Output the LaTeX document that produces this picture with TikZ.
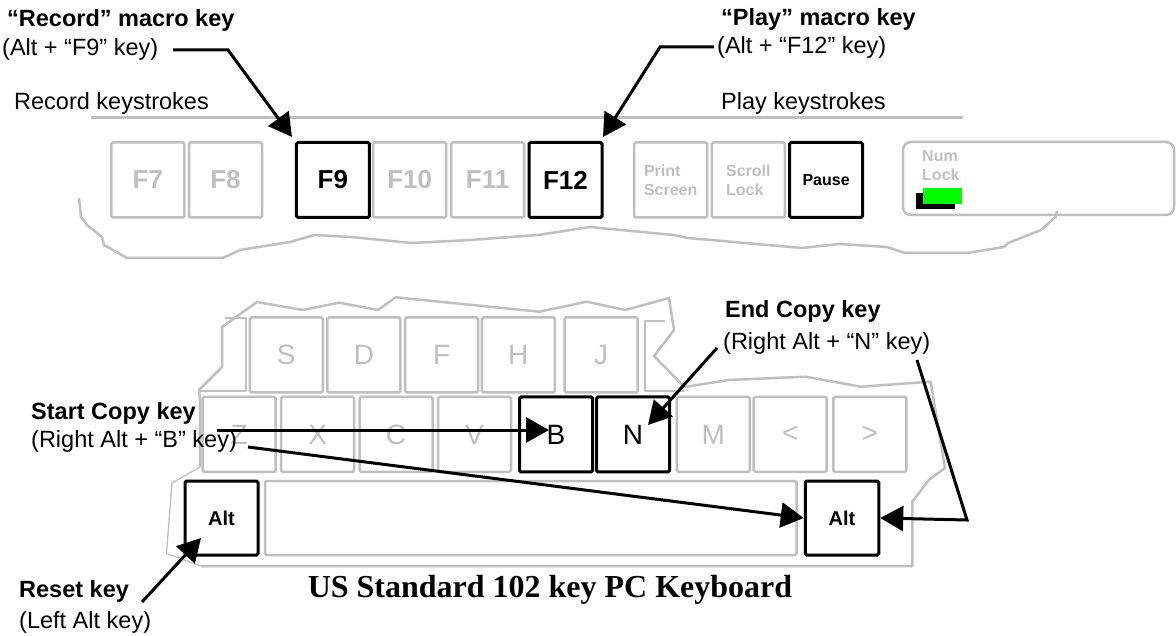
\documentclass[tikz,border=0pt]{standalone}
\usepackage{fontspec}
\setmainfont{Liberation Sans}
\newfontfamily\titlefont{Liberation Serif}
\usetikzlibrary{arrows.meta}
\definecolor{kg}{HTML}{BFBFBF}
\definecolor{led}{HTML}{00FF00}
\begin{document}
\begin{tikzpicture}[x=1pt,y=-1pt,
  lbl/.style={anchor=base west,inner sep=0pt,font=\fontsize{23.5}{28}\selectfont},
  lblb/.style={anchor=base west,inner sep=0pt,font=\fontsize{23.5}{28}\selectfont\bfseries},
  gkey/.style={draw=kg,line width=2.5pt,rounded corners=1.5pt,text=kg,inner sep=0pt,minimum width=73pt,minimum height=75pt},
  bkey/.style={gkey,draw=black,text=black,line width=3pt},
  fk/.style={font=\fontsize{26}{30}\selectfont\bfseries},
  sk/.style={font=\fontsize{16}{19}\selectfont\bfseries,align=left},
  lk/.style={font=\fontsize{28}{32}\selectfont},
  ak/.style={font=\fontsize{20}{24}\selectfont\bfseries},
  outl/.style={draw=kg,line width=2.5pt,line join=round},
  arr/.style={draw=black,line width=3pt,-{Triangle[length=23pt,width=25pt]}},
]
\useasboundingbox (0,0) rectangle (1176,636);

% ---------- top labels ----------
\node[lblb] (recA) at (7,27) {“Record” macro key};
\node[lbl]  (recB) at (2,56) {(Alt + “F9” key)};
\node[lbl]  (recC) at (14,110) {Record keystrokes};
\node[lblb] (plyA) at (721,26) {“Play” macro key};
\node[lbl]  (plyB) at (717,54) {(Alt + “F12” key)};
\node[lbl]  (plyC) at (721,110) {Play keystrokes};

\draw[kg,line width=3pt] (91,118) -- (963,118);

% ---------- top outline ----------
\draw[outl] (79,198) -- (81,217) -- (87,225) -- (102,237) -- (104,245) -- (127,258)
  -- (223,258) -- (240,250) -- (290,242) -- (314.5,235) -- (351,237) -- (412,243)
  -- (470,240) -- (538,235) -- (590,227) -- (600,228) -- (673.5,235) -- (688,238)
  -- (802,248) -- (839,244) -- (887,247) -- (905,253) -- (967,253) -- (1004,247)
  -- (1008,243) -- (1041,230) -- (1055.5,217) -- (1057,211);

% ---------- top keys ----------
\node[gkey,fk] (f7)  at (147.9,180) {F7};
\node[gkey,fk] (f8)  at (225.5,180) {F8};
\node[bkey,fk] (f9)  at (332.9,180) {F9};
\node[gkey,fk] (f10) at (409.7,180) {F10};
\node[gkey,fk] (f11) at (487.6,180) {F11};
\node[bkey,fk] (f12) at (565.5,180) {F12};
\node[gkey,sk] (prt) at (670.7,180) {Print\\Screen};
\node[gkey,sk] (scr) at (748.4,180) {Scroll\\Lock};
\node[bkey,sk] (pau) at (826.1,180) {Pause};
\node[draw=kg,line width=2.5pt,rounded corners=8pt,minimum width=271pt,minimum height=73pt,inner sep=0pt] (num) at (1038.5,178.5) {};
\node[anchor=base west,inner sep=0pt,text=kg,font=\fontsize{16}{19}\selectfont\bfseries] (numA) at (922,162) {Num};
\node[anchor=base west,inner sep=0pt,text=kg,font=\fontsize{16}{19}\selectfont\bfseries] (numB) at (922,181) {Lock};
\fill[black] (916,193) rectangle (955,209);
\fill[led] (923,188) rectangle (962,204);

% ---------- top arrows ----------
\coordinate (r0) at (173,50);
\coordinate (r1) at (228,50);
\coordinate (r2) at (292,137);
\draw[arr] (r0) -- (r1) -- (r2);
\coordinate (p0) at (714,47);
\coordinate (p1) at (660,47);
\coordinate (p2) at (603,137);
\draw[arr] (p0) -- (p1) -- (p2);

% ---------- lower outline ----------
\draw[outl] (200,467) -- (200,400) -- (199,390) -- (222,367) -- (222,327) -- (257,302)
  -- (302.6,310) -- (339.4,302.7) -- (378,310) -- (395.5,297.3) -- (539.3,311.7)
  -- (586.7,301.7) -- (625.3,310) -- (669,298) -- (674,330) -- (654,356) -- (684.5,387)
  -- (728.6,380) -- (805.7,376.7) -- (860.8,386.7) -- (930.6,381.7) -- (945,468)
  -- (928.8,480) -- (912.3,501.7) -- (912.3,566) -- (201,566);
\draw[kg,line width=1.3pt,line join=round] (201,566) -- (166.5,553.3) -- (172,483) -- (200,467);
% partial keys
\draw[outl] (225,318) -- (246,318) -- (246,391) -- (199,391);
\draw[outl] (665,321) -- (645,321) -- (645,391) -- (684,391);

% ---------- lower keys ----------
\begin{scope}[every node/.append style={minimum height=73.4pt}]
\node[gkey,lk] (ks) at (286.3,355) {S};
\node[gkey,lk] (kd) at (363.9,355) {D};
\node[gkey,lk] (kf) at (441.6,355) {F};
\node[gkey,lk] (kh) at (518.3,355) {H};
\node[gkey,lk] (kj) at (601.2,355) {J};
\end{scope}
\begin{scope}[every node/.append style={minimum height=72pt,minimum width=72pt}]
\node[gkey,lk] (kz) at (239.2,434.4) {Z};
\node[gkey,lk] (kx) at (317.6,434.4) {X};
\node[gkey,lk] (kc) at (396,434.4) {C};
\node[gkey,lk] (kv) at (474.5,434.4) {V};
\node[bkey,lk] (kb) at (556,434.4) {B};
\node[bkey,lk] (kn) at (633,434.4) {N};
\node[gkey,lk] (km) at (713.4,434.4) {M};
\node[gkey,lk] (klt) at (790.2,434.4) {<};
\node[gkey,lk] (kgt) at (869.9,434.4) {>};
\end{scope}
\node[bkey,ak,minimum height=74pt] (lalt) at (221.5,518) {Alt};
\node[gkey,minimum height=74pt,minimum width=531.5pt] (space) at (530.75,518) {};
\node[bkey,ak,minimum height=74pt,minimum width=73.5pt] (ralt) at (842,518) {Alt};

% ---------- lower labels ----------
\node[lblb] (endA) at (725,318) {End Copy key};
\node[lbl]  (endB) at (723,350) {(Right Alt + “N” key)};
\node[lblb] (stA) at (31,420) {Start Copy key};
\node[lbl]  (stB) at (31,447) {(Right Alt + “B” key)};
\node[lblb] (rsA) at (19,597) {Reset key};
\node[lbl]  (rsB) at (19,628) {(Left Alt key)};
\node[anchor=base,inner sep=0pt,font=\titlefont\fontsize{32}{36}\selectfont\bfseries] (title) at (550,597) {US Standard 102 key PC Keyboard};

% ---------- lower arrows ----------
\coordinate (s0) at (217,430);
\coordinate (s1) at (549,430);
\draw[arr] (s0) -- (s1);
\coordinate (t0) at (248,447);
\draw[arr] (t0) -- (ralt.west);
\coordinate (e0) at (717,348);
\coordinate (e1) at (648,425);
\draw[arr] (e0) -- (e1);
\coordinate (n0) at (917,360);
\coordinate (n1) at (967,520);
\draw[arr] (n0) -- (n1) -- (ralt.east);
\coordinate (q0) at (142,602);
\coordinate (q1) at (201,538);
\draw[arr] (q0) -- (q1);
\end{tikzpicture}
\end{document}
